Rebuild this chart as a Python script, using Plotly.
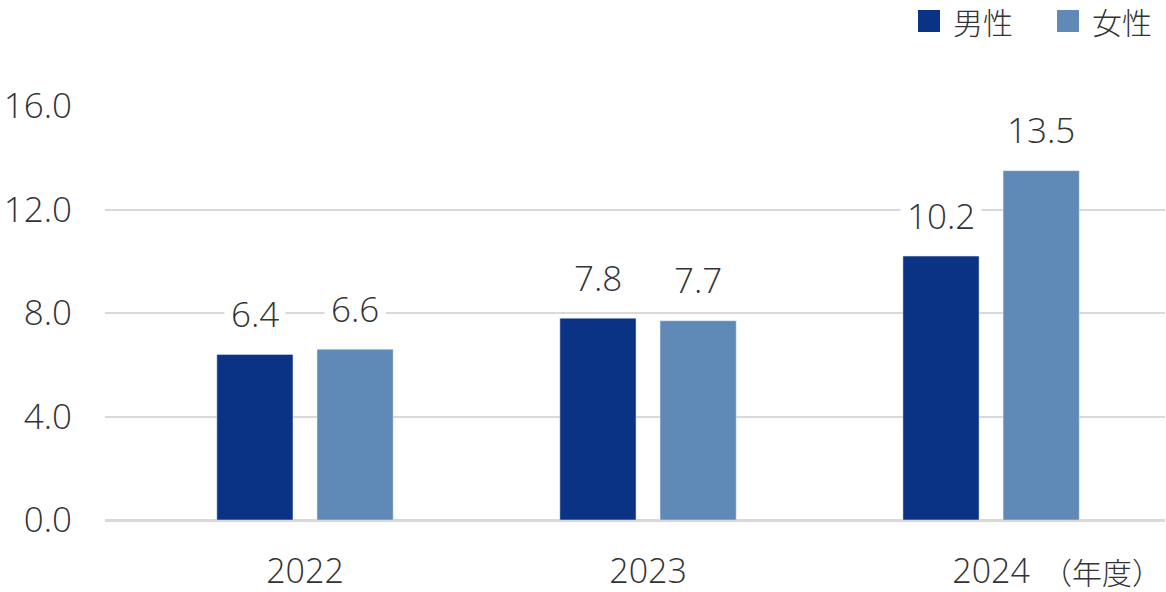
import plotly.graph_objects as go

categories = ["2022", "2023", "2024"]
male = [6.4, 7.8, 10.2]
female = [6.6, 7.7, 13.5]
series_names = ["男性", "女性"]
y_ticks = [0, 4, 8, 12, 16]
y_tick_labels = ["0.0", "4.0", "8.0", "12.0", "16.0"]

FONT = "Open Sans, Noto Sans CJK JP"
JFONT = "Noto Sans CJK JP"
TXT = "#333333"
colors = ["#0B3385", "#5F89B6"]
offsets = [-0.146, 0.146]

xi = list(range(len(categories)))
bw = 0.222

PL, PT, PW, PH = 105, 106, 1060, 414


def px(x):
    return (x - PL) / PW


def py(y):
    return (PT + PH - y) / PH


fig = go.Figure()
for name, vals, col, off in zip(series_names, [male, female], colors, offsets):
    fig.add_trace(go.Bar(
        x=xi, y=vals, name=name, marker_color=col,
        width=bw, offset=off - bw / 2, showlegend=False,
    ))
    for x, v in zip(xi, vals):
        fig.add_annotation(
            x=x + off, y=v, text=f"{v:.1f}", showarrow=False,
            xanchor="center", yanchor="middle", yshift=41,
            bgcolor="white", borderpad=6,
            font=dict(size=35, family=FONT, color=TXT, weight=300),
        )

# legend (square swatches + labels)
leg_x = [918, 1057]
for name, col, lx in zip(series_names, colors, leg_x):
    fig.add_shape(type="rect", xref="paper", yref="paper",
                  x0=px(lx), x1=px(lx + 22), y0=py(32), y1=py(10),
                  line_width=0, fillcolor=col)
    fig.add_annotation(text=name, xref="paper", yref="paper",
                       x=px(lx + 33), y=py(21),
                       xanchor="left", yanchor="middle", showarrow=False,
                       font=dict(size=30, family=JFONT, color=TXT, weight=300))

fig.update_layout(
    width=1166, height=592,
    margin=dict(l=PL, r=1166 - PL - PW, t=PT, b=592 - PT - PH, autoexpand=False),
    paper_bgcolor="white", plot_bgcolor="white",
    barmode="overlay",
    font=dict(family=FONT, color=TXT, size=30),
    showlegend=False,
)
fig.update_xaxes(
    tickmode="array", tickvals=xi, ticktext=categories,
    range=[-0.583, 2.507], showgrid=False, zeroline=False, showline=False,
    ticks="", ticklabelstandoff=28, automargin=False,
    tickfont=dict(size=34, family=FONT, color=TXT, weight=300),
)
fig.update_yaxes(
    range=[0, 16], tickmode="array", tickvals=y_ticks, ticktext=y_tick_labels,
    showgrid=True, gridcolor="#D9D9D9", gridwidth=1.5,
    zeroline=True, zerolinecolor="#D9D9D9", zerolinewidth=3,
    ticks="", ticklabelstandoff=32, automargin=False,
    tickfont=dict(size=35, family=FONT, color=TXT, weight=300), showline=False,
)
fig.add_annotation(
    text="（年度）", xref="paper", yref="paper", x=px(1164), y=py(571),
    xanchor="right", yanchor="middle", showarrow=False,
    font=dict(size=30, family=JFONT, color=TXT, weight=300),
)

fig.write_html("out.html", config={"displayModeBar": False},
               post_script="document.body.style.margin='0';document.body.style.padding='0';")
